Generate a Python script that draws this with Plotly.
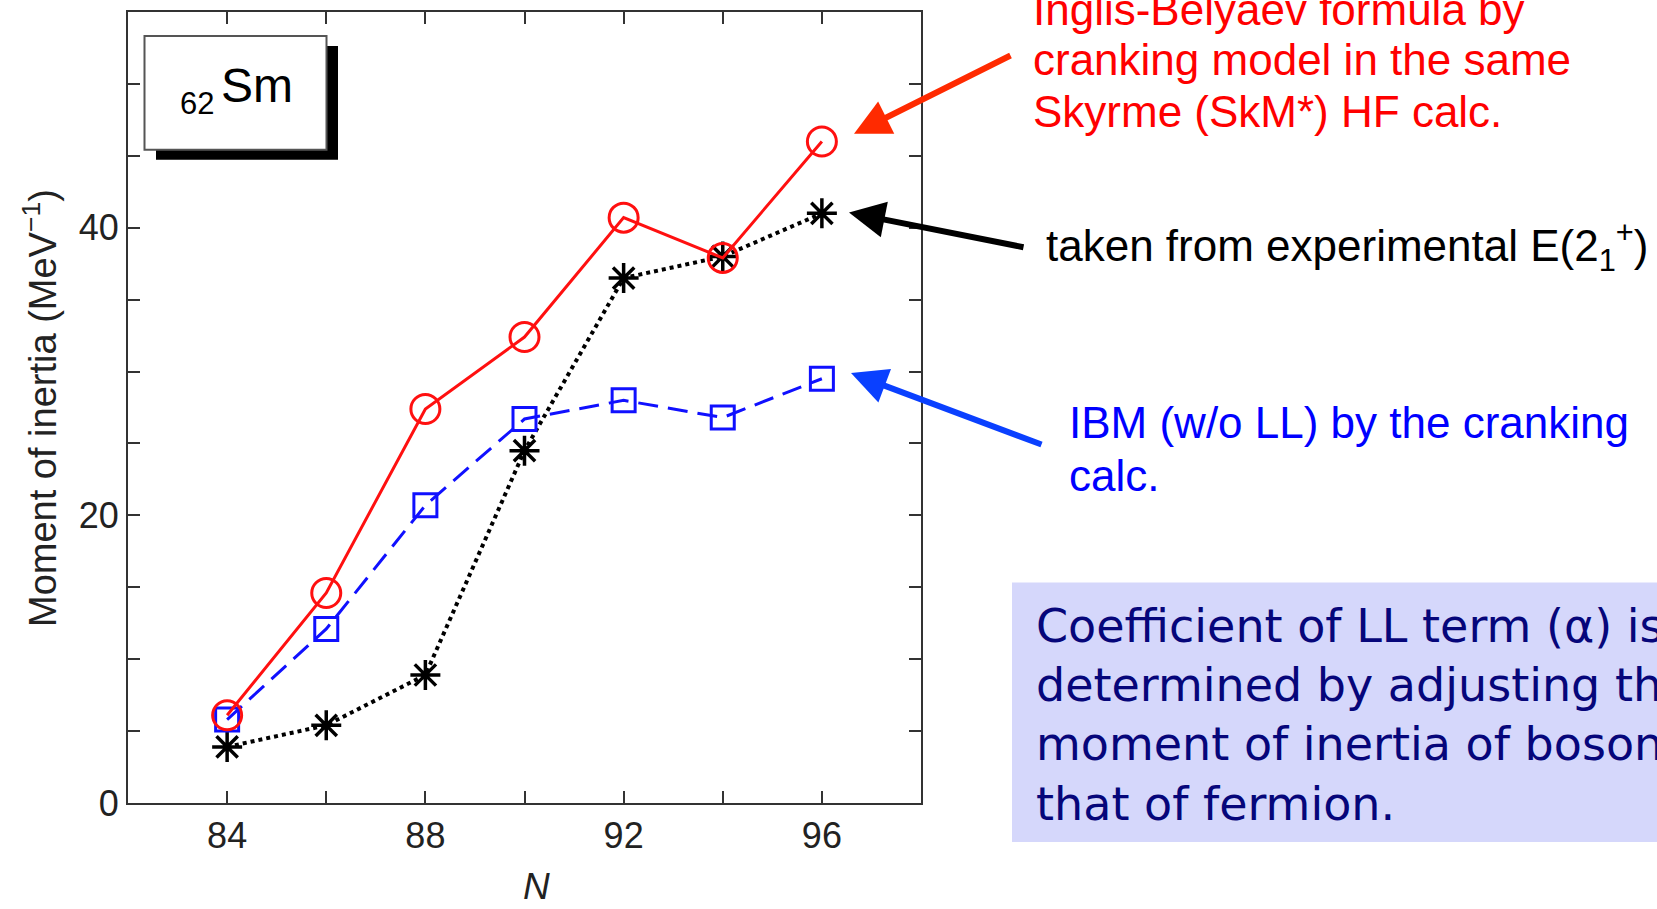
import plotly.graph_objects as go

# Neutron number N for the Sm isotopes
neutron_n = [84, 86, 88, 90, 92, 94, 96]
# Moment of inertia (MeV^-1)
inglis_belyaev = [6.1, 14.6, 27.4, 32.4, 40.7, 37.9, 46.0]
ibm_cranking = [5.8, 12.1, 20.7, 26.7, 28.0, 26.8, 29.5]
experimental = [3.9, 5.4, 8.9, 24.5, 36.5, 38.0, 41.0]

x_ticks = [82, 84, 86, 88, 90, 92, 94, 96, 98]
x_labels = ["", "84", "", "88", "", "92", "", "96", ""]
y_ticks = [0, 5, 10, 15, 20, 25, 30, 35, 40, 45, 50, 55]
y_labels = ["0", "", "", "", "20", "", "", "", "40", "", "", ""]

red_note = ["Inglis-Belyaev formula by", "cranking model in the same",
            "Skyrme (SkM*) HF calc."]
black_note = "taken from experimental E(2<sub>1</sub><sup>+</sup>)"
blue_note = ["IBM (w/o LL) by the cranking", "calc."]
panel_note = ["Coefficient of LL term (α) is", "determined by adjusting the",
              "moment of inertia of boson to", "that of fermion."]

W_FIG, H_FIG = 1657, 909
L, T, PW, PH = 128, 10, 793, 793
B = T + PH


def px(x):
    return (x - L) / PW


def py(y):
    return (B - y) / PH


FONT = "Liberation Sans, Arial, sans-serif"

fig = go.Figure()

fig.add_trace(go.Scatter(
    x=neutron_n, y=experimental, mode="lines+markers",
    line=dict(color="black", width=4, dash="dot"),
    marker=dict(symbol="asterisk-open", size=25, line=dict(color="black", width=3.5)),
    showlegend=False,
))
fig.add_trace(go.Scatter(
    x=neutron_n, y=ibm_cranking, mode="lines+markers",
    line=dict(color="#1010ff", width=3, dash="20px,10px"),
    marker=dict(symbol="square-open", size=23, color="#1010ff", line=dict(width=3)),
    showlegend=False,
))
fig.add_trace(go.Scatter(
    x=neutron_n, y=inglis_belyaev, mode="lines+markers",
    line=dict(color="#ff1010", width=3),
    marker=dict(symbol="circle-open", size=29, color="#ff1010", line=dict(width=3)),
    showlegend=False,
))

axis_common = dict(
    showline=True, linecolor="#333", linewidth=2, mirror="allticks",
    ticks="inside", ticklen=12, tickwidth=2, tickcolor="#333",
    showgrid=False, zeroline=False,
    tickfont=dict(family=FONT, size=36, color="#222"),
)
fig.update_xaxes(range=[82, 98], tickvals=x_ticks, ticktext=x_labels, **axis_common)
fig.update_yaxes(range=[0, 55], tickvals=y_ticks, ticktext=y_labels, **axis_common)

shapes = [
    # element label box with drop shadow
    dict(type="rect", xref="paper", yref="paper",
         x0=px(156), x1=px(338), y0=py(158), y1=py(44),
         fillcolor="black", line=dict(width=0)),
    dict(type="rect", xref="paper", yref="paper",
         x0=px(144.5), x1=px(326.5), y0=py(148), y1=py(34),
         fillcolor="white", line=dict(color="#555", width=2)),
    # note panel
    dict(type="rect", xref="paper", yref="paper",
         x0=px(1012), x1=px(1700), y0=py(842), y1=py(582),
         fillcolor="#d5d7fb", line=dict(width=0), layer="below"),
]


def note(x, y, text, size, color, family=FONT):
    return dict(x=px(x), y=py(y), text=text, xanchor="left", yanchor="middle",
                align="left", font=dict(family=family, size=size, color=color))


annotations = [
    dict(x=px(219), y=py(84), text="Sm", xanchor="left", yanchor="middle",
         font=dict(family=FONT, size=48, color="black")),
    dict(x=px(178), y=py(102), text="62", xanchor="left", yanchor="middle",
         font=dict(family=FONT, size=31, color="black")),
    dict(x=px(40), y=py(407), text="Moment of inertia (MeV<sup>−1</sup>)",
         textangle=-90, xanchor="center", yanchor="middle",
         font=dict(family=FONT, size=38, color="#222")),
    dict(x=px(536), y=py(887), text="<i>N</i>", xanchor="center", yanchor="middle",
         font=dict(family=FONT, size=37, color="#222")),
    # arrows
    dict(x=px(854), y=py(132), ax=158, ay=-79, text="", showarrow=True,
         arrowhead=2, arrowsize=1.2, arrowwidth=6, arrowcolor="#ff2a00"),
    dict(x=px(849), y=py(211), ax=176, ay=35, text="", showarrow=True,
         arrowhead=2, arrowsize=1.2, arrowwidth=6, arrowcolor="black"),
    dict(x=px(851), y=py(372), ax=192, ay=72, text="", showarrow=True,
         arrowhead=2, arrowsize=1.2, arrowwidth=6, arrowcolor="#0a40ff"),
]
for line_text, yc in zip(red_note, [7, 58, 110]):
    annotations.append(note(1031, yc, line_text, 44, "#ff0000"))
annotations.append(note(1044, 245, black_note, 44, "black"))
for line_text, yc in zip(blue_note, [422, 475]):
    annotations.append(note(1067, yc, line_text, 44, "#0000ff"))
for line_text, yc in zip(panel_note, [626, 685, 744, 804]):
    annotations.append(note(1034, yc, line_text, 46, "#06067a",
                            family="DejaVu Sans, sans-serif"))

for a in annotations:
    a.setdefault("xref", "paper")
    a.setdefault("yref", "paper")
    a.setdefault("showarrow", False)

fig.update_layout(
    width=W_FIG, height=H_FIG,
    margin=dict(l=L, r=W_FIG - L - PW, t=T, b=H_FIG - B),
    paper_bgcolor="white", plot_bgcolor="white",
    shapes=shapes, annotations=annotations,
)

fig.write_html("out.html")
